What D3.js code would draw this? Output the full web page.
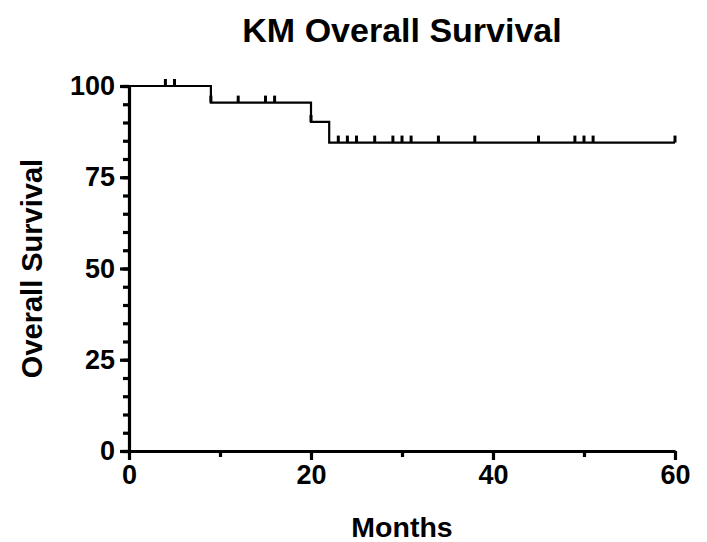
<!DOCTYPE html>
<html>
<head>
<meta charset="utf-8">
<script src="https://cdn.jsdelivr.net/npm/d3@7"></script>
<style>
  body { margin: 0; background: #fff; }
  text { font-family: "Liberation Sans", Arial, sans-serif; font-weight: bold; fill: #000; }
</style>
</head>
<body>
<script>
// KM curve data
var stepTimes = [0, 9, 20, 22, 60];          // start of each step, last = end of follow-up
var stepSurv = [100, 95.45, 90.15, 84.5];    // survival % on each step
var censorTimes = [4, 5, 9, 12, 15, 16, 20, 23, 24, 25, 27, 29, 30, 31, 34, 38, 45, 49, 50, 51, 60];

var xTicks = [0, 20, 40, 60];
var xMinor = [10, 30, 50];
var yTicks = [0, 25, 50, 75, 100];
var yMinor = d3.range(0, 101, 5);

var svgWidth = 707;
var svgHeight = 542;
var margin = { top: 86, right: 32, bottom: 91, left: 129 };
var width = svgWidth - margin.left - margin.right;
var height = svgHeight - margin.top - margin.bottom;

var svg = d3.select("body")
  .append("svg")
  .attr("width", svgWidth)
  .attr("height", svgHeight);

var chartGroup = svg.append("g")
  .attr("transform", `translate(${margin.left}, ${margin.top})`);

var x = d3.scaleLinear().domain([0, 60]).range([0, width]);
var y = d3.scaleLinear().domain([0, 100]).range([height, 0]);

// minor ticks first
chartGroup.append("g")
  .attr("class", "minor")
  .call(d3.axisLeft(y).tickValues(yMinor).tickSize(6).tickSizeOuter(0).tickFormat(""));
chartGroup.append("g")
  .attr("class", "minor")
  .attr("transform", `translate(0, ${height})`)
  .call(d3.axisBottom(x).tickValues(xMinor).tickSize(6).tickSizeOuter(0).tickFormat(""));

var yAxis = chartGroup.append("g")
  .call(d3.axisLeft(y).tickValues(yTicks).tickSize(9).tickSizeOuter(0).tickPadding(5));
var xAxis = chartGroup.append("g")
  .attr("transform", `translate(0, ${height})`)
  .call(d3.axisBottom(x).tickValues(xTicks).tickSize(9).tickSizeOuter(0).tickPadding(5));

chartGroup.selectAll(".domain, .tick line")
  .attr("stroke", "#000")
  .attr("stroke-width", 3.2);
chartGroup.selectAll(".tick text")
  .style("font-size", "27px")
  .style("font-family", "'Liberation Sans', Arial, sans-serif")
  .style("font-weight", "bold")
  .attr("fill", "#000");
chartGroup.selectAll(".minor .domain").remove();

// step curve
var stepData = [];
stepSurv.forEach(function(s, i) {
  stepData.push([stepTimes[i], s]);
  stepData.push([stepTimes[i + 1], s]);
});
var line = d3.line()
  .x(d => x(d[0]))
  .y(d => y(d[1]));

chartGroup.append("path")
  .datum(stepData)
  .attr("d", line)
  .attr("fill", "none")
  .attr("stroke", "#000")
  .attr("stroke-width", 2.2);

function survAt(t) {
  var s = stepSurv[0];
  for (var i = 0; i < stepSurv.length; i++) {
    if (t >= stepTimes[i]) s = stepSurv[i];
  }
  return s;
}

// censor marks
chartGroup.selectAll(".censor")
  .data(censorTimes)
  .enter()
  .append("line")
  .attr("class", "censor")
  .attr("x1", d => x(d))
  .attr("x2", d => x(d))
  .attr("y1", d => y(survAt(d)))
  .attr("y2", d => y(survAt(d)) - 7)
  .attr("stroke", "#000")
  .attr("stroke-width", 3);

// title and axis labels
svg.append("text")
  .attr("x", margin.left + width / 2)
  .attr("y", 42)
  .attr("text-anchor", "middle")
  .style("font-size", "34px")
  .text("KM Overall Survival");

svg.append("text")
  .attr("x", margin.left + width / 2)
  .attr("y", 537)
  .attr("text-anchor", "middle")
  .style("font-size", "28.5px")
  .text("Months");

svg.append("text")
  .attr("transform", "rotate(-90)")
  .attr("x", -(margin.top + height / 2))
  .attr("y", 42)
  .attr("text-anchor", "middle")
  .style("font-size", "29px")
  .text("Overall Survival");
</script>
</body>
</html>
